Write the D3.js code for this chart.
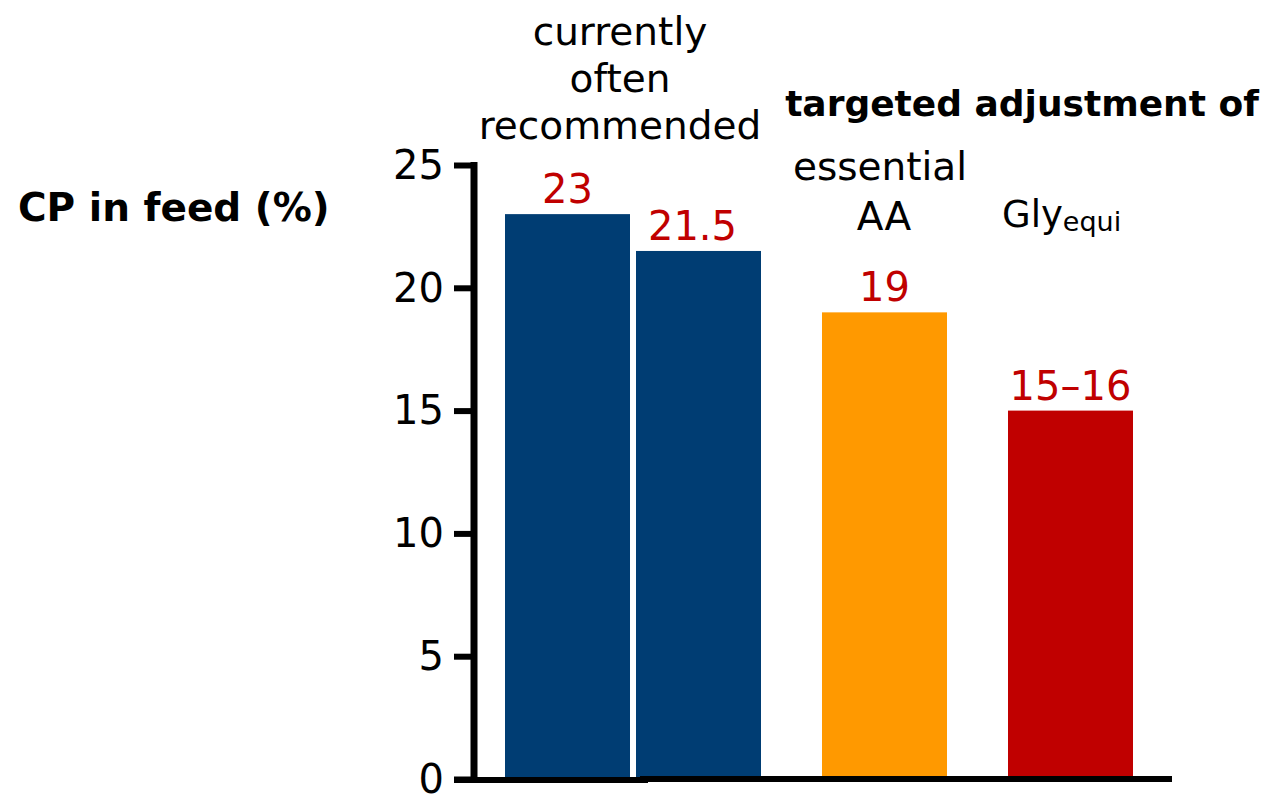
<!DOCTYPE html>
<html>
<head>
<meta charset="utf-8">
<script src="https://cdn.jsdelivr.net/npm/d3@7"></script>
<style>
  body { margin: 0; background: #fff; }
  svg { display: block; font-family: "DejaVu Sans", Verdana, sans-serif; }
</style>
</head>
<body>
<svg></svg>
<script>
// data
const categories = ['rec1', 'rec2', 'essentialAA', 'glyEqui'];
const values = [23, 21.5, 19, 15];
const valueLabels = ['23', '21.5', '19', '15\u201316'];
const barColors = ['#003d73', '#003d73', '#ff9900', '#c00000'];
const yTicks = [0, 5, 10, 15, 20, 25];

const size = {w: 1269, h: 796};
const svg = d3.select('svg')
    .attr('width', size.w)
    .attr('height', size.h);

const axisX = 474;
const baseY = 779;
const barW = 125;

let y = d3.scaleLinear()
    .domain([0, 25])
    .range([baseY, 165]);

// bars are not evenly spread, so map each category to its left edge
let x = d3.scaleOrdinal()
    .domain(categories)
    .range([505, 636, 822, 1008]);

// bars
svg.append('g').classed('bars', true)
    .selectAll('rect')
    .data(categories)
    .join('rect')
    .attr('x', d => x(d))
    .attr('y', (d, i) => y(values[i]))
    .attr('width', barW)
    .attr('height', (d, i) => y(0) - y(values[i]))
    .style('fill', (d, i) => barColors[i]);

// value labels
svg.append('g').classed('values', true)
    .selectAll('text')
    .data(categories)
    .join('text')
    .attr('x', (d, i) => x(d) + barW / 2 + (i == 1 ? -6 : 0))
    .attr('y', (d, i) => y(values[i]) - 11)
    .attr('text-anchor', 'middle')
    .style('font-size', '40px')
    .style('fill', '#c00000')
    .text((d, i) => valueLabels[i]);

// y axis
const axisG = svg.append('g')
    .attr('transform', 'translate(' + axisX + ',0)');
axisG.call(d3.axisLeft(y).tickValues(yTicks).tickSize(20).tickPadding(10))
    .call(g => g.select('.domain').remove());
axisG.selectAll('.tick line')
    .attr('stroke', '#000')
    .attr('stroke-width', 6);
axisG.selectAll('.tick text')
    .style('font-size', '40px')
    .style('font-family', '"DejaVu Sans", Verdana, sans-serif')
    .attr('dy', '0.33em')
    .attr('fill', '#000');
axisG.append('line')
    .attr('x1', 0).attr('x2', 0)
    .attr('y1', y(25) - 3).attr('y2', baseY + 3)
    .attr('stroke', '#000')
    .attr('stroke-width', 7);

// x baseline (drawn in two pieces like the original)
svg.append('line')
    .attr('x1', axisX - 20).attr('x2', 648)
    .attr('y1', baseY + 1).attr('y2', baseY + 1)
    .attr('stroke', '#000')
    .attr('stroke-width', 6);
svg.append('line')
    .attr('x1', 640).attr('x2', 1172)
    .attr('y1', baseY).attr('y2', baseY)
    .attr('stroke', '#000')
    .attr('stroke-width', 6);

// y title
svg.append('text')
    .attr('x', 18).attr('y', 221)
    .style('font-size', '39px')
    .style('font-weight', 'bold')
    .text('CP in feed (%)');

// group headings
const head = svg.append('g').classed('headings', true)
    .style('font-size', '39px');

head.selectAll('text.rec')
    .data(['currently', 'often', 'recommended'])
    .join('text')
    .attr('x', 620)
    .attr('y', (d, i) => 45 + i * 47)
    .attr('text-anchor', 'middle')
    .text(d => d);

head.append('text')
    .attr('x', 1022).attr('y', 116)
    .attr('text-anchor', 'middle')
    .style('font-weight', 'bold')
    .style('font-size', '36px')
    .text('targeted adjustment of');

head.selectAll('text.aa')
    .data(['essential', 'AA'])
    .join('text')
    .attr('x', (d, i) => i == 0 ? 880 : 884)
    .attr('y', (d, i) => 180 + i * 50)
    .attr('text-anchor', 'middle')
    .text(d => d);

const gly = head.append('text')
    .attr('x', 1002).attr('y', 227)
    .style('font-size', '37px');
gly.append('tspan').text('Gly');
gly.append('tspan')
    .attr('dy', 4)
    .style('font-size', '27px')
    .text('equi');
</script>
</body>
</html>
